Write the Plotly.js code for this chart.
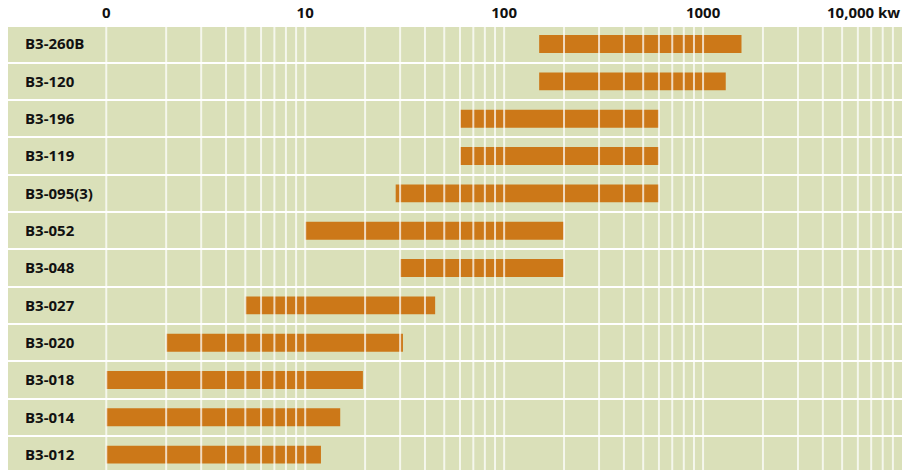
<!DOCTYPE html>
<html>
<head>
<meta charset="utf-8">
<script src="https://cdn.plot.ly/plotly-3.0.1.min.js"></script>
<style>
  html, body { margin: 0; padding: 0; background: #ffffff; }
  #chart { width: 915px; height: 470px; }
</style>
</head>
<body>
<div id="chart"></div>
<script>
// Data
const categories = ['B3-260B', 'B3-120', 'B3-196', 'B3-119', 'B3-095(3)', 'B3-052',
                    'B3-048', 'B3-027', 'B3-020', 'B3-018', 'B3-014', 'B3-012'];
const startKw = [150, 150, 60, 60, 28.5, 10, 30, 5, 2, 1, 1, 1];
const endKw   = [1560, 1300, 600, 600, 600, 200, 200, 45, 31, 19.5, 15, 12];
const tickValues = [1, 10, 100, 1000, 10000];
const tickLabels = ['0', '10', '100', '1000', ''];
const lastTickLabel = '10,000 kw';

const bgColor = '#DAE0B9';
const barColor = '#CC7818';
const labelFont = { family: 'Open Sans', size: 15, weight: 'bold', color: '#111111' };

const trace = {
  type: 'bar',
  orientation: 'h',
  y: categories,
  base: startKw,
  x: endKw.map((e, i) => e - startKw[i]),
  marker: { color: barColor, line: { width: 0 } },
  width: 0.48,
  hoverinfo: 'skip'
};

// Vertical log grid lines, drawn above the bars (semi-transparent white)
const gridShapes = [];
for (let d = 0; d < 4; d++) {
  for (let k = 1; k <= 9; k++) {
    gridShapes.push({
      type: 'line', layer: 'above', xref: 'x', yref: 'paper',
      x0: k * Math.pow(10, d), x1: k * Math.pow(10, d), y0: 0, y1: 1,
      line: { color: 'rgba(255,255,255,0.72)', width: 2 }
    });
  }
}

const layout = {
  width: 915, height: 470,
  margin: { l: 8, r: 13, t: 27, b: 0, pad: 0 },
  paper_bgcolor: '#ffffff',
  plot_bgcolor: bgColor,
  showlegend: false,
  font: labelFont,
  xaxis: {
    type: 'log',
    side: 'top',
    range: [-0.494, 4],
    tickvals: tickValues,
    ticktext: tickLabels,
    ticks: '',
    ticklabelstandoff: 5,
    showgrid: false,
    zeroline: false,
    showline: false,
    tickfont: labelFont,
    fixedrange: true
  },
  yaxis: {
    type: 'category',
    categoryorder: 'array',
    categoryarray: categories,
    range: [11.411, -0.457],
    ticklabelposition: 'inside',
    ticklabelstandoff: 14,
    tickson: 'boundaries',
    ticks: '',
    showgrid: true,
    gridcolor: '#ffffff',
    gridwidth: 2,
    zeroline: false,
    showline: false,
    tickfont: labelFont,
    fixedrange: true
  },
  shapes: gridShapes,
  annotations: [{
    xref: 'x', yref: 'paper',
    x: Math.log10(tickValues[tickValues.length - 1]),
    y: 1, yshift: 15,
    xanchor: 'right', yanchor: 'middle',
    text: lastTickLabel,
    showarrow: false,
    font: labelFont
  }],
  bargap: 0.5
};

Plotly.newPlot('chart', [trace], layout, { displayModeBar: false, staticPlot: true });
</script>
</body>
</html>
